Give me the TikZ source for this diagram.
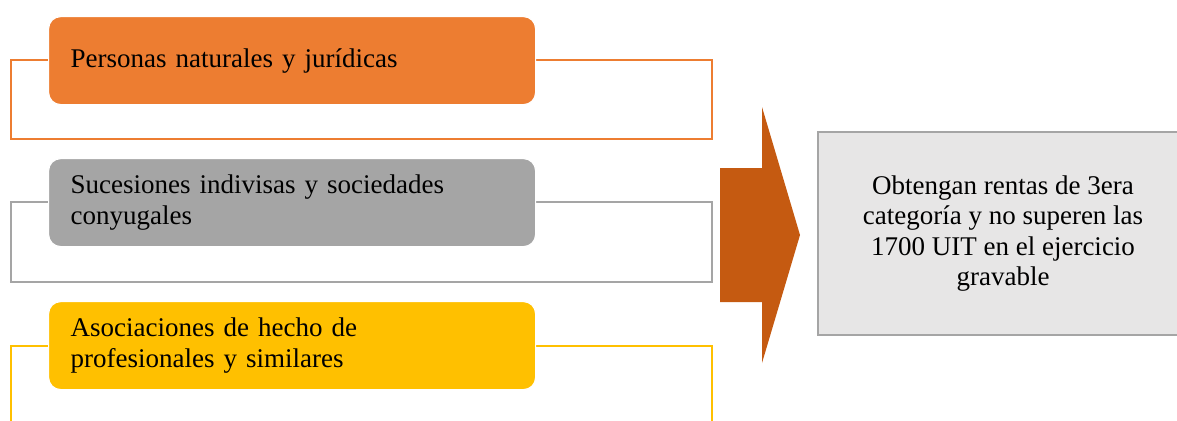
\documentclass[tikz,border=0pt]{standalone}
\usepackage{fontspec}
\setmainfont{Liberation Serif}
\definecolor{corange}{HTML}{ED7D31}
\definecolor{cgray}{HTML}{A5A5A5}
\definecolor{cyellow}{HTML}{FFC000}
\definecolor{carrow}{HTML}{C55A11}
\definecolor{clight}{HTML}{E7E6E6}
\begin{document}
\begin{tikzpicture}[x=1pt,y=-1pt,
  outline/.style={line width=2pt},
  item/.style={rounded corners=12pt, draw=white, line width=1.2pt, anchor=north west,
    minimum width=487pt, minimum height=88pt, inner xsep=22pt, inner ysep=0pt,
    text width=443pt, align=left, font=\fontsize{27}{30.5}\selectfont},
  result/.style={draw=cgray, line width=2pt, fill=clight, anchor=north west,
    minimum width=370pt, minimum height=203pt, align=center, font=\fontsize{27}{30.5}\selectfont}
]
\useasboundingbox (0,0) rectangle (1177,420);
\fill[white] (0,0) rectangle (1177,420);
% outlines
\draw[outline, corange] (11,60) rectangle (712,139);
\draw[outline, cgray] (11,202) rectangle (712,282);
\draw[outline, cyellow] (11,346) rectangle (712,440);
% boxes
\node[item, fill=corange] (a) at (48,16) {Personas naturales y jurídicas};
\node[item, fill=cgray] (b) at (48,158) {Sucesiones indivisas y sociedades\\conyugales};
\node[item, fill=cyellow] (c) at (48,301) {Asociaciones de hecho de\\profesionales y similares};
% arrow
\fill[carrow] (720,168) -- (762,168) -- (762,107) -- (800,235) -- (762,363) -- (762,302) -- (720,302) -- cycle;
% result
\node[result] (r) at (817,131) {Obtengan rentas de 3era\\categoría y no superen las\\1700 UIT en el ejercicio\\gravable};
\end{tikzpicture}
\end{document}
